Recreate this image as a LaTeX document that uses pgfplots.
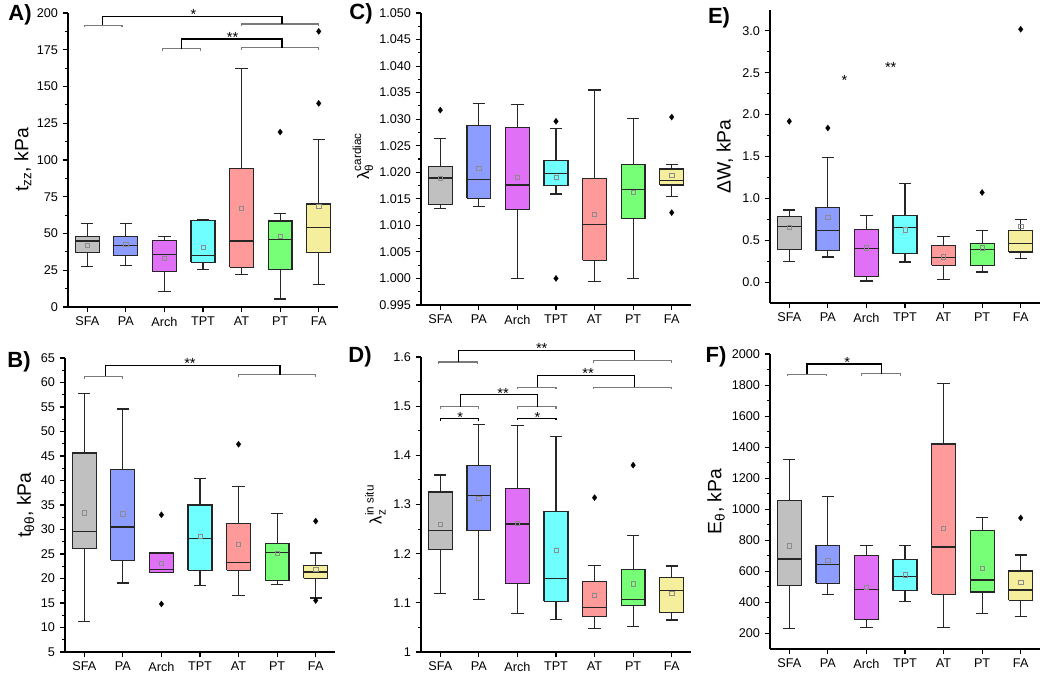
\documentclass[border=0pt]{standalone}
\usepackage{amsmath}
\usepackage{fontspec}
\setmainfont{Liberation Sans}
\usepackage{pgfplots}
\pgfplotsset{compat=1.18}

\definecolor{cSFA}{HTML}{C0C0C0}
\definecolor{cPA}{HTML}{8C9CFF}
\definecolor{cArch}{HTML}{E070F5}
\definecolor{cTPT}{HTML}{70FFFF}
\definecolor{cAT}{HTML}{FF9A9A}
\definecolor{cPT}{HTML}{77FF77}
\definecolor{cFA}{HTML}{F5EE9C}
\definecolor{brgray}{HTML}{7A7A7A}
\definecolor{edge}{HTML}{262626}

\pgfplotsset{
  panel/.style={
    scale only axis, width=202.5pt,
    xmin=0.5, xmax=7.5, xtick={1,2,3,4,5,6,7},
    xticklabels={SFA,PA,Arch,TPT,AT,PT,FA},
    axis x line*=bottom, axis y line*=left,
    tick align=outside, major tick length=4pt, minor tick length=2.3pt,
    minor y tick num=1,
    tick style={black, line width=0.8pt},
    axis line style={black, line width=0.9pt},
    tick label style={font=\fontsize{9.5}{10}\selectfont},
    /pgf/number format/assume math mode=true,
    /pgf/number format/1000 sep={},
    scaled y ticks=false,
    clip=false,
    ylabel style={font=\fontsize{14.5}{16}\selectfont, anchor=center},
  },
  means/.style={only marks, mark=square, mark size=1.6pt, draw=black!45, line width=0.5pt},
  outl/.style={only marks, mark=diamond*, mark size=2.3pt, black, mark options={fill=black, line width=0.2pt}},
}

% box: position, lower whisker, lower quartile, median, upper quartile, upper whisker, colour
\newcommand{\bx}[7]{%
  \pgfmathsetmacro{\bxl}{#1-0.31}\pgfmathsetmacro{\bxr}{#1+0.31}%
  \pgfmathsetmacro{\bcl}{#1-0.16}\pgfmathsetmacro{\bcr}{#1+0.16}%
  \addplot[edge, line width=0.9pt] coordinates {(#1,#2) (#1,#3)};
  \addplot[edge, line width=0.9pt] coordinates {(#1,#5) (#1,#6)};
  \addplot[edge, line width=0.9pt] coordinates {(\bcl,#2) (\bcr,#2)};
  \addplot[edge, line width=0.9pt] coordinates {(\bcl,#6) (\bcr,#6)};
  \addplot[fill=#7, draw=edge, line width=0.9pt] coordinates {(\bxl,#3) (\bxr,#3) (\bxr,#5) (\bxl,#5) (\bxl,#3)};
  \addplot[edge, line width=1pt] coordinates {(\bxl,#4) (\bxr,#4)};
}
% gray (or black) small bracket: x1, x2, y, colour
\newcommand{\gbr}[4]{\draw[#4, line width=0.8pt] (axis cs:#1,#3) ++(0pt,-1.6pt) |- (axis cs:#2,#3) -- ++(0pt,-1.6pt);}
% black group bracket: x1, x2, ylow-left, ylow-right, ytop
\newcommand{\bbr}[5]{\draw[black, line width=1pt] (axis cs:#1,#3) |- (axis cs:#2,#5) -- (axis cs:#2,#4);}
% significance stars: x, y(centre of glyph), text
\newcommand{\sig}[3]{\node[font=\fontsize{11}{11}\selectfont, anchor=base, yshift=-6.2pt, inner sep=0pt] at (axis cs:#1,#2) {#3};}

\begin{document}
\begin{tikzpicture}
\useasboundingbox (0,0) rectangle (787.5pt,507.75pt);

% ---------------- A ----------------
\begin{axis}[panel, at={(51pt,277.5pt)}, height=220.5pt,
  ymin=0, ymax=200, ytick={0,25,...,200},
  ylabel={t$_{\text{zz}}$, kPa},
  ylabel style={at={(axis description cs:-0.167,0.5)}}]
\bx{1}{27.5}{37}{45}{48}{57}{cSFA}
\bx{2}{28}{35}{42}{48}{57}{cPA}
\bx{3}{10.5}{24}{35.5}{45}{48}{cArch}
\bx{4}{25.5}{30.5}{35}{59}{59.5}{cTPT}
\bx{5}{22}{27}{45}{94}{162}{cAT}
\bx{6}{5.5}{25.5}{46}{58.5}{63.5}{cPT}
\bx{7}{15.5}{37}{54}{70}{114}{cFA}
\addplot[outl] coordinates {(6,119) (7,138.5) (7,187.5)};
\addplot[means] coordinates {(1,42) (2,42.5) (3,33) (4,40.5) (5,67) (6,48) (7,68.5)};
\gbr{0.92}{1.9}{191.8}{brgray}
\gbr{5}{7}{192.5}{brgray}
\bbr{1.4}{6.05}{191.8}{192.5}{197.8}
\sig{3.75}{201}{*}
\gbr{2.94}{3.94}{175.7}{brgray}
\gbr{5}{7}{176.4}{brgray}
\bbr{3.45}{6.05}{175.7}{176.4}{182.3}
\sig{4.77}{185.7}{**}
\end{axis}

% ---------------- C ----------------
\begin{axis}[panel, at={(315.75pt,279pt)}, height=219pt,
  ymin=0.995, ymax=1.050,
  ytick={0.995,1.000,1.005,1.010,1.015,1.020,1.025,1.030,1.035,1.040,1.045,1.050},
  yticklabel style={/pgf/number format/.cd, fixed, fixed zerofill, precision=3},
  ylabel={$\text{λ}_{\text{θ}}^{\text{cardiac}}$},
  ylabel style={font=\fontsize{12.5}{14}\selectfont, at={(axis description cs:-0.215,0.51)}}]
\bx{1}{1.0132}{1.0140}{1.0189}{1.0211}{1.0263}{cSFA}
\bx{2}{1.0135}{1.0151}{1.0186}{1.0288}{1.0329}{cPA}
\bx{3}{1.0000}{1.0130}{1.0176}{1.0284}{1.0327}{cArch}
\bx{4}{1.0159}{1.0175}{1.0198}{1.0222}{1.0283}{cTPT}
\bx{5}{0.9994}{1.0034}{1.0101}{1.0188}{1.0355}{cAT}
\bx{6}{1.0000}{1.0113}{1.0167}{1.0215}{1.0301}{cPT}
\bx{7}{1.0154}{1.0176}{1.0184}{1.0206}{1.0215}{cFA}
\addplot[outl] coordinates {(1,1.0317) (4,1.0296) (4,1.0000) (7,1.0304) (7,1.0124)};
\addplot[means] coordinates {(1,1.0188) (2,1.0208) (3,1.0191) (4,1.0190) (5,1.0121) (6,1.0162) (7,1.0194)};
\end{axis}

% ---------------- E ----------------
\begin{axis}[panel, at={(577.5pt,280.5pt)}, height=219.75pt,
  ymin=-0.25, ymax=3.25, ytick={0,0.5,...,3},
  yticklabel style={/pgf/number format/.cd, fixed, fixed zerofill, precision=1},
  ylabel={ΔW, kPa},
  ylabel style={at={(axis description cs:-0.167,0.5)}}]
\bx{1}{0.25}{0.39}{0.665}{0.78}{0.86}{cSFA}
\bx{2}{0.30}{0.376}{0.617}{0.886}{1.49}{cPA}
\bx{3}{0.012}{0.063}{0.40}{0.63}{0.795}{cArch}
\bx{4}{0.24}{0.34}{0.65}{0.795}{1.175}{cTPT}
\bx{5}{0.028}{0.198}{0.29}{0.44}{0.54}{cAT}
\bx{6}{0.12}{0.20}{0.388}{0.463}{0.62}{cPT}
\bx{7}{0.277}{0.36}{0.463}{0.62}{0.744}{cFA}
\addplot[outl] coordinates {(1,1.92) (2,1.84) (6,1.07) (7,3.02)};
\addplot[means] coordinates {(1,0.65) (2,0.77) (3,0.41) (4,0.625) (5,0.30) (6,0.41) (7,0.665)};
\sig{2.43}{2.45}{*}
\sig{3.63}{2.60}{**}
\end{axis}

% ---------------- B ----------------
\begin{axis}[panel, at={(48.75pt,18.75pt)}, height=220.5pt,
  ymin=5, ymax=65, ytick={5,10,...,65},
  ylabel={t$_{\text{θθ}}$, kPa},
  ylabel style={at={(axis description cs:-0.146,0.5)}}]
\bx{1}{11.3}{26.2}{29.6}{45.6}{57.7}{cSFA}
\bx{2}{19.1}{23.7}{30.5}{42.2}{54.6}{cPA}
\bx{3}{21.3}{21.3}{21.9}{25.2}{25.2}{cArch}
\bx{4}{18.6}{21.7}{28.1}{35.0}{40.4}{cTPT}
\bx{5}{16.5}{21.7}{23.2}{31.2}{38.7}{cAT}
\bx{6}{18.7}{19.6}{25.3}{27.1}{33.2}{cPT}
\bx{7}{16.0}{20.0}{21.3}{22.7}{25.2}{cFA}
\addplot[outl] coordinates {(3,33.0) (3,14.8) (5,47.4) (7,31.7) (7,15.5)};
\addplot[means] coordinates {(1,33.4) (2,33.2) (3,23.1) (4,28.6) (5,26.9) (6,25.1) (7,21.8)};
\gbr{1}{2}{61.25}{brgray}
\gbr{5}{7}{61.6}{brgray}
\bbr{1.55}{6.07}{61.25}{61.6}{63.5}
\sig{3.74}{64.5}{**}
\end{axis}

% ---------------- D ----------------
\begin{axis}[panel, at={(315.75pt,18.75pt)}, height=221.25pt,
  ymin=1, ymax=1.6, ytick={1,1.1,1.2,1.3,1.4,1.5,1.6},
  ylabel={$\text{λ}_{\text{z}}^{\text{in situ}}$},
  ylabel style={font=\fontsize{12.5}{14}\selectfont, at={(axis description cs:-0.169,0.5)}}]
\bx{1}{1.119}{1.2086}{1.2467}{1.3255}{1.360}{cSFA}
\bx{2}{1.1067}{1.2467}{1.3187}{1.379}{1.4627}{cPA}
\bx{3}{1.078}{1.139}{1.260}{1.333}{1.460}{cArch}
\bx{4}{1.0666}{1.1033}{1.1495}{1.286}{1.438}{cTPT}
\bx{5}{1.047}{1.0714}{1.0904}{1.1434}{1.1767}{cAT}
\bx{6}{1.0523}{1.0944}{1.1067}{1.168}{1.237}{cPT}
\bx{7}{1.0652}{1.0802}{1.125}{1.1509}{1.175}{cFA}
\addplot[outl] coordinates {(5,1.314) (6,1.380)};
\addplot[means] coordinates {(1,1.260) (2,1.312) (3,1.2616) (4,1.2066) (5,1.115) (6,1.1386) (7,1.1196)};
% top
\gbr{0.96}{1.96}{1.5898}{brgray}
\gbr{4.97}{7}{1.593}{brgray}
\bbr{1.48}{6.03}{1.5898}{1.593}{1.6135}
\sig{3.63}{1.6237}{**}
% second
\gbr{3}{4}{1.5389}{brgray}
\gbr{4.97}{7}{1.5389}{brgray}
\bbr{3.52}{6.03}{1.5389}{1.5389}{1.5625}
\sig{4.83}{1.5727}{**}
% third
\gbr{1}{2}{1.4993}{brgray}
\gbr{3}{4}{1.4993}{brgray}
\bbr{1.52}{3.52}{1.4993}{1.4993}{1.5232}
\sig{2.63}{1.532}{**}
% fourth
\gbr{1}{2}{1.4743}{black}
\gbr{3}{4}{1.4757}{black}
\sig{1.52}{1.484}{*}
\sig{3.52}{1.484}{*}
\end{axis}

% ---------------- F ----------------
\begin{axis}[panel, at={(577.5pt,21pt)}, height=221.25pt,
  ymin=100, ymax=2000, ytick={200,400,...,2000},
  ylabel={E$_{\text{θ}}$, kPa},
  ylabel style={at={(axis description cs:-0.2,0.5)}}]
\bx{1}{234}{510}{680}{1058}{1320}{cSFA}
\bx{2}{450}{523}{644}{767}{1080}{cPA}
\bx{3}{236}{288}{485}{702}{767}{cArch}
\bx{4}{408}{475}{565}{678}{765}{cTPT}
\bx{5}{241}{452}{757}{1420}{1808}{cAT}
\bx{6}{327}{467}{544}{863}{948}{cPT}
\bx{7}{310}{414}{480}{602}{706}{cFA}
\addplot[outl] coordinates {(7,944)};
\addplot[means] coordinates {(1,765) (2,670) (3,497) (4,578) (5,877) (6,620) (7,528)};
\gbr{0.96}{1.96}{1869}{brgray}
\gbr{2.88}{3.89}{1872}{brgray}
\bbr{1.46}{3.39}{1869}{1872}{1935}
\sig{2.5}{1968}{*}
\end{axis}

% panel letters
\node[font=\bfseries\fontsize{16.5}{17}\selectfont] at (15pt,496.5pt) {A)};
\node[font=\bfseries\fontsize{16.5}{17}\selectfont] at (270.75pt,497.25pt) {C)};
\node[font=\bfseries\fontsize{16.5}{17}\selectfont] at (539.25pt,494.25pt) {E)};
\node[font=\bfseries\fontsize{16.5}{17}\selectfont] at (14.25pt,236.25pt) {B)};
\node[font=\bfseries\fontsize{16.5}{17}\selectfont] at (270pt,240pt) {D)};
\node[font=\bfseries\fontsize{16.5}{17}\selectfont] at (537pt,240pt) {F)};
\end{tikzpicture}
\end{document}
